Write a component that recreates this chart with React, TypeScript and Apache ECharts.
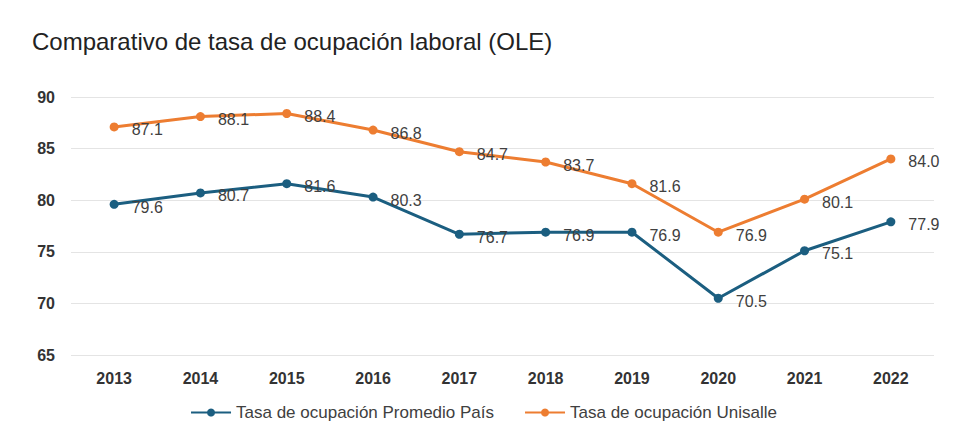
import React, { useEffect, useRef } from "react";
import * as echarts from "echarts";

const years = ["2013", "2014", "2015", "2016", "2017", "2018", "2019", "2020", "2021", "2022"];
const promedioPais = [79.6, 80.7, 81.6, 80.3, 76.7, 76.9, 76.9, 70.5, 75.1, 77.9];
const unisalle = [87.1, 88.1, 88.4, 86.8, 84.7, 83.7, 81.6, 76.9, 80.1, 84.0];
const seriesNames = ["Tasa de ocupación Promedio País", "Tasa de ocupación Unisalle"];
const titleText = "Comparativo de tasa de ocupación laboral (OLE)";

const BLUE = "#1B5E80";
const ORANGE = "#ED7D31";
const FONT = "Liberation Sans, Arial, sans-serif";

export default function App() {
  const ref = useRef<HTMLDivElement>(null);
  useEffect(() => {
    if (!ref.current) return;
    const chart = echarts.init(ref.current, undefined, { renderer: "svg" });
    const label = {
      show: true,
      position: "right",
      offset: [8, 3],
      color: "#404040",
      fontSize: 16,
      fontFamily: FONT,
      formatter: (p: any) => Number(p.value).toFixed(1),
    };
    chart.setOption({
      animation: false,
      backgroundColor: "#ffffff",
      title: {
        text: titleText,
        left: 19,
        top: 16,
        textStyle: {
          fontFamily: FONT,
          fontSize: 24,
          fontWeight: "normal",
          color: "#222222",
        },
      },
      grid: { left: 63, right: 25, top: 89, bottom: 71, containLabel: false },
      legend: {
        top: 391,
        left: "center",
        itemWidth: 40,
        itemHeight: 10,
        itemGap: 30,
        textStyle: {
          fontFamily: FONT,
          fontSize: 17,
          color: "#404040",
        },
        data: seriesNames,
      },
      xAxis: {
        type: "category",
        data: years,
        boundaryGap: true,
        axisLine: { show: false },
        axisTick: { show: false },
        axisLabel: {
          margin: 15,
          color: "#333333",
          fontSize: 16,
          fontWeight: "bold",
          fontFamily: FONT,
        },
      },
      yAxis: {
        type: "value",
        min: 65,
        max: 90,
        interval: 5,
        axisLine: { show: false },
        axisTick: { show: false },
        splitLine: { lineStyle: { color: "#e4e4e4", width: 1 } },
        axisLabel: {
          margin: 16,
          color: "#333333",
          fontSize: 16,
          fontWeight: "bold",
          fontFamily: FONT,
        },
      },
      series: [
        {
          name: seriesNames[0],
          type: "line",
          data: promedioPais,
          symbol: "circle",
          symbolSize: 9,
          itemStyle: { color: BLUE },
          lineStyle: { color: BLUE, width: 3 },
          label,
        },
        {
          name: seriesNames[1],
          type: "line",
          data: unisalle,
          symbol: "circle",
          symbolSize: 9,
          itemStyle: { color: ORANGE },
          lineStyle: { color: ORANGE, width: 3 },
          label,
        },
      ],
    });
    return () => chart.dispose();
  }, []);
  return <div ref={ref} style={{ width: 951, height: 418 }} />;
}
